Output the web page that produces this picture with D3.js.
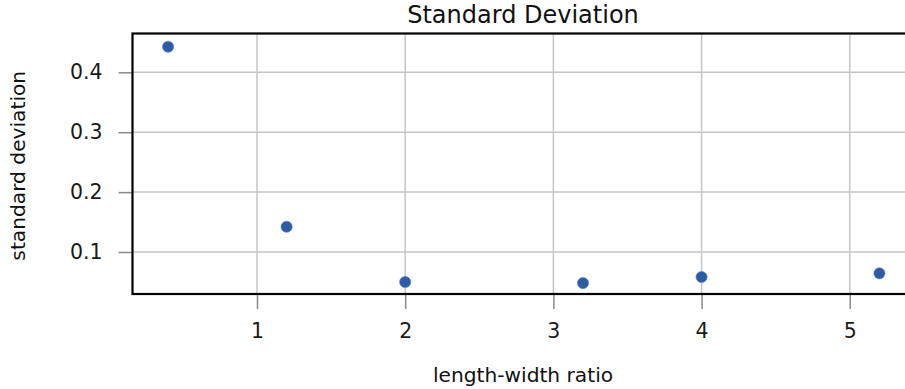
<!DOCTYPE html>
<html>
<head>
<meta charset="utf-8">
<script src="https://cdn.jsdelivr.net/npm/d3@7"></script>
<style>
  html, body { margin: 0; padding: 0; background: #ffffff; overflow: hidden; }
  svg { display: block; font-family: "DejaVu Sans", sans-serif; }
</style>
</head>
<body>
<svg id="chart" width="905" height="389"></svg>
<script>
// Aspect ratio of each sample and the standard deviation measured for it
const ratios = [0.4, 1.2, 2.0, 3.2, 4.0, 5.2];
const stdDevs = [0.4427, 0.1422, 0.0499, 0.0482, 0.0583, 0.0644];
const xTicks = [1, 2, 3, 4, 5];
const yTicks = [0.1, 0.2, 0.3, 0.4];
const xDomain = [0.16, 5.43];
const yDomain = [0.0299, 0.4648];

const svg = d3.select("#chart");
const plot = { left: 132.5, top: 33.5, right: 913.5, bottom: 294 };

const x = d3.scaleLinear().domain(xDomain).range([plot.left, plot.right]);
const y = d3.scaleLinear().domain(yDomain).range([plot.bottom, plot.top]);

// grid
const grid = svg.append("g");
grid.selectAll("line.gx").data(xTicks).join("line")
  .attr("x1", d => x(d)).attr("x2", d => x(d))
  .attr("y1", plot.top).attr("y2", plot.bottom)
  .attr("stroke", "#c6c6c6").attr("stroke-width", 1.5);
grid.selectAll("line.gy").data(yTicks).join("line")
  .attr("x1", plot.left).attr("x2", plot.right)
  .attr("y1", d => y(d)).attr("y2", d => y(d))
  .attr("stroke", "#c6c6c6").attr("stroke-width", 1.5);

// axes
const xAxis = svg.append("g")
  .attr("transform", `translate(0,${plot.bottom})`)
  .call(d3.axisBottom(x).tickValues(xTicks).tickFormat(d3.format("d"))
    .tickSizeInner(15).tickSizeOuter(0).tickPadding(14));
const yAxis = svg.append("g")
  .attr("transform", `translate(${plot.left},0)`)
  .call(d3.axisLeft(y).tickValues(yTicks).tickFormat(d3.format(".1f"))
    .tickSizeInner(14).tickSizeOuter(0).tickPadding(16));
[xAxis, yAxis].forEach(a => {
  a.select(".domain").remove();
  a.selectAll(".tick line").attr("stroke", "#8a8a8a").attr("stroke-width", 1.5);
  a.selectAll(".tick text").attr("fill", "#1a1a1a")
    .style("font-size", "20.5px").style("font-family", "DejaVu Sans");
});

// frame
svg.append("rect")
  .attr("x", plot.left).attr("y", plot.top)
  .attr("width", plot.right - plot.left).attr("height", plot.bottom - plot.top)
  .attr("fill", "none").attr("stroke", "#000").attr("stroke-width", 2.2);

// points
svg.append("g").selectAll("circle").data(ratios).join("circle")
  .attr("cx", d => x(d))
  .attr("cy", (d, i) => y(stdDevs[i]))
  .attr("r", 5.6)
  .attr("fill", "#2b5ca4")
  .attr("stroke", "#5a7fb8").attr("stroke-width", 0.6);

// titles
svg.append("text")
  .attr("x", (plot.left + plot.right) / 2).attr("y", 23)
  .attr("text-anchor", "middle")
  .style("font-size", "24px").attr("fill", "#111")
  .text("Standard Deviation");

svg.append("text")
  .attr("x", (plot.left + plot.right) / 2).attr("y", 382)
  .attr("text-anchor", "middle")
  .style("font-size", "20.2px").attr("fill", "#111")
  .text("length-width ratio");

svg.append("text")
  .attr("transform", `translate(25,${(plot.top + plot.bottom) / 2 + 2}) rotate(-90)`)
  .attr("text-anchor", "middle")
  .style("font-size", "20.2px").attr("fill", "#111")
  .text("standard deviation");
</script>
</body>
</html>
